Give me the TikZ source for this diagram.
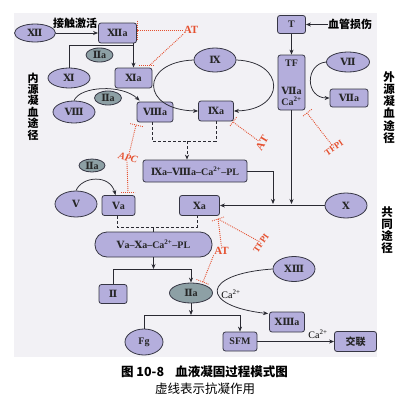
\documentclass[tikz,border=0pt]{standalone}
\usepackage{fontspec}
\setmainfont{Liberation Serif}
\newfontfamily\cjk{Noto Sans CJK SC}
\newfontfamily\rnf{DejaVu Serif}
\usetikzlibrary{shapes.geometric,arrows.meta,calc}
\definecolor{bgc}{HTML}{F2F1F5}
\definecolor{boxc}{HTML}{B4AEDC}
\definecolor{edgec}{HTML}{363644}
\definecolor{thrc}{HTML}{8DA0A5}
\definecolor{redc}{HTML}{E5502F}
\definecolor{linec}{HTML}{2A2A32}
\newcommand\rn[1]{{\rnf\bfseries #1}}
\newcommand\inhbar[3]{\draw[inh] ($(#1)!#3!90:(#2)$) -- ($(#1)!#3!-90:(#2)$);}
\tikzset{
  lbl/.style={font=\bfseries\fontsize{10}{11}\selectfont, text=black!85},
  box/.style={rectangle, rounded corners=2.5pt, draw=edgec, line width=0.8pt, fill=boxc, inner sep=0pt, lbl},
  oval/.style={ellipse, draw=edgec, line width=0.8pt, fill=boxc, inner sep=0pt, lbl},
  thr/.style={oval, fill=thrc},
  plain/.style={draw=linec, line width=0.75pt},
  flow/.style={plain, -{Stealth[length=5pt,width=4pt]}},
  dsh/.style={plain, dash pattern=on 3pt off 2pt},
  dshflow/.style={dsh, -{Stealth[length=5pt,width=4pt]}},
  inh/.style={draw=redc, line width=0.9pt, dash pattern=on 0.9pt off 1.1pt},
  redtxt/.style={text=redc, inner sep=0.5pt, font=\bfseries\fontsize{11}{12}\selectfont},
  redsm/.style={redtxt, font=\bfseries\fontsize{9}{10}\selectfont},
  cjkb/.style={font=\cjk\bfseries\fontsize{11}{12}\selectfont, inner sep=0pt},
  vlab/.style={align=center, inner sep=0pt},
  ca/.style={font=\fontsize{10}{11}\selectfont, inner sep=0pt}
}
\begin{document}
\begin{tikzpicture}[x=1pt,y=-1pt]
\useasboundingbox (0,0) rectangle (405,405);
\fill[white] (0,0) rectangle (405,405);
\fill[bgc] (14,13) rectangle (377,357);

% nodes
\node[oval, minimum width=41pt, minimum height=18pt] (n12) at (35,33) {\rn{Ⅻ}};
\node[box, minimum width=38pt, minimum height=20pt] (n12a) at (117.5,33) {\rn{Ⅻ}a};
\node[oval, minimum width=42pt, minimum height=20pt] (n11) at (69,78) {\rn{Ⅺ}};
\node[box, minimum width=37pt, minimum height=20pt] (n11a) at (133.5,78) {\rn{Ⅺ}a};
\node[oval, minimum width=42pt, minimum height=22pt] (n8) at (74,112) {\rn{Ⅷ}};
\node[box, minimum width=36pt, minimum height=20pt] (n8a) at (155,112) {\rn{Ⅷ}a};
\node[oval, minimum width=42pt, minimum height=24pt] (n9) at (215,60) {\rn{Ⅸ}};
\node[box, minimum width=35pt, minimum height=20pt] (n9a) at (216,111) {\rn{Ⅸ}a};
\node[box, minimum width=28pt, minimum height=18pt] (nT) at (291.5,24.5) {T};
\node[box, minimum width=27pt, minimum height=55pt, align=center] (nTF) at (291.5,82.5) {TF\\[17pt]\rn{Ⅶ}a\\Ca\textsuperscript{2+}};
\node[oval, minimum width=43pt, minimum height=20pt] (n7) at (348,62) {\rn{Ⅶ}};
\node[box, minimum width=38pt, minimum height=18pt] (n7a) at (349,98) {\rn{Ⅶ}a};
\node[box, minimum width=104pt, minimum height=22pt] (c1) at (195,171) {\rn{Ⅸ}a–\rn{Ⅷ}a–Ca\textsuperscript{2+}–PL};
\node[oval, minimum width=42pt, minimum height=25pt] (nX) at (346,205.5) {\rn{Ⅹ}};
\node[box, minimum width=40pt, minimum height=20pt] (nXa) at (199.5,205.5) {\rn{Ⅹ}a};
\node[box, minimum width=33pt, minimum height=20pt] (nVa) at (118.5,205.5) {\rn{Ⅴ}a};
\node[oval, minimum width=42pt, minimum height=26pt] (nV) at (76,204) {\rn{Ⅴ}};
\node[box, rounded corners=12pt, minimum width=117pt, minimum height=25pt] (c2) at (153.5,244.5) {\rn{Ⅴ}a–\rn{Ⅹ}a–Ca\textsuperscript{2+}–PL};
\node[box, minimum width=28pt, minimum height=19pt] (n2) at (113,294) {\rn{Ⅱ}};
\node[oval, minimum width=42pt, minimum height=25pt] (n13) at (294,269) {\rn{ⅩⅢ}};
\node[box, minimum width=35pt, minimum height=20pt] (n13a) at (287,322) {\rn{ⅩⅢ}a};
\node[oval, minimum width=38pt, minimum height=26pt] (nFg) at (144,342) {Fg};
\node[box, minimum width=34pt, minimum height=19pt] (nSFM) at (240,341.5) {SFM};
\node[box, minimum width=42pt, minimum height=20pt, font=\cjk\bfseries\fontsize{10}{11}\selectfont] (nCL) at (355.5,341.5) {交联};

% upper pathway connectors
\node[cjkb] (contact) at (75,23) {接触激活};
\draw[flow] (n12) -- (n12a);
\coordinate (y45) at (0,45);
\draw[plain] (n11.north) |- (n11a.north |- y45);
\draw[flow] (n11a.north |- n12a.south) -- (n11a.north);
\node[thr, minimum width=27pt, minimum height=14pt] (t1) at (99.5,55) {\rn{Ⅱ}a};

\draw[flow] (n8.north) .. controls (80,86) and (122,84) .. ($(n8a.north west)+(3,-1)$);
\node[thr, minimum width=27pt, minimum height=14pt] (t2) at (108,98) {\rn{Ⅱ}a};

\draw[flow] (n9.west) .. controls (140,62) and (140,110) .. (n9a.west);
\draw[flow] (n9.east) .. controls (286,62) and (286,110) .. (n9a.east);

\node[cjkb] (inj) at (350,24.5) {血管损伤};
\draw[flow] (inj.west) -- (nT.east);
\draw[flow] (nT) -- (nTF);
\draw[flow] (n7.west) .. controls (305,64) and (305,98) .. (n7a.west);

% tenase
\coordinate (d1) at (0,141);
\draw[dsh] ($(n8a.south)+(-3,0)$) |- (d1 -| n9a.south) -- (n9a.south);
\coordinate (d1m) at (187,141);
\draw[dshflow] (d1m) -- (d1m |- c1.north);

% to X line
\coordinate (k1) at (273,204);
\draw[flow] (c1.east) -| (k1);
\draw[flow] (nTF.south) -- (nTF.south |- k1);
\draw[flow] (nX.west) -- (nXa.east);

% V
\draw[flow] (nV.north) .. controls (82,176) and (110,174) .. ($(nVa.north)+(-3,0)$);
\node[thr, minimum width=26pt, minimum height=13pt] (t3) at (92,165.5) {\rn{Ⅱ}a};

\coordinate (d2) at (0,227);
\draw[dsh] ($(nVa.south)+(-1.5,0)$) |- ($(d2 -| nXa.south)+(-2.5,0)$) -- ($(nXa.south)+(-2.5,0)$);
\draw[plain] (c2.north |- d2) -- (c2.north);

% prothrombin
\node[thr, minimum width=43pt, minimum height=20pt] (t4) at (191,293) {\rn{Ⅱ}a};
\coordinate (h1) at (0,269);
\draw[flow] (c2.south) -- (c2.south |- h1);
\draw[flow] (n2.north) |- (h1 -| t4.north) -- (t4.north);

\draw[flow] (n13.west) .. controls (200,274) and (200,306) .. ($(n13a.north west)+(-1,2)$);
\node[ca] (ca1) at (231,294) {Ca\textsuperscript{2+}};

\coordinate (h2) at (0,315);
\draw[flow] (t4.south) -- (t4.south |- h2);
\draw[flow] (nFg.north) |- (h2 -| nSFM.north) -- (nSFM.north);
\draw[flow] (nSFM.east) -- (nCL.west);
\node[ca] (ca2) at (318,334) {Ca\textsuperscript{2+}};

% inhibitors
\node[redtxt] (at1) at (191,30) {AT};
\draw[inh] (at1.west) -- (at1.west -| n12a.east);
\draw[inh] ($(n12a.north east)+(0.5,-2)$) -- ($(n12a.south east)+(0.5,-3)$);
\coordinate (b1) at (150,65);
\draw[inh] (at1.south west) -- (b1);
\draw[inh] ($(b1)+(-11,0)$) -- ($(b1)+(4,0)$);

\node[redtxt, font=\bfseries\itshape\fontsize{10}{11}\selectfont, rotate=-15] (apc) at (128,158) {APC};
\coordinate (b2) at (136,125);
\draw[inh] (apc.north) -- (b2);
\inhbar{b2}{apc.north}{7pt}
\coordinate (b3) at (128,192);
\draw[inh] (apc.south) -- (b3);
\draw[inh] ($(b3)+(-7,0)$) -- ($(b3)+(7,0)$);

\node[redtxt, rotate=59] (at2) at (262,143) {AT};
\coordinate (b4) at (233,122);
\draw[inh] (at2.north) -- (b4);
\inhbar{b4}{at2.north}{6pt}

\node[redsm, rotate=35] (tfpi1) at (334,148) {TFPI};
\coordinate (b5) at (307,113);
\draw[inh] (tfpi1.north) -- (b5);
\inhbar{b5}{tfpi1.north}{6pt}

\node[redsm, rotate=55] (tfpi2) at (261,243) {TFPI};
\node[redtxt] (at3) at (221.5,251) {AT};
\coordinate (b6) at (218,219);
\draw[inh] (b6) -- (tfpi2.north);
\draw[inh] (b6) -- (at3.north);
\draw[inh] ($(b6)+(-6,2)$) -- ($(b6)+(6,-2)$);
\coordinate (b7) at (203,282);
\draw[inh] (at3.south west) -- (b7);
\inhbar{b7}{at3.south west}{7pt}

% side labels
\node[vlab, font=\cjk\bfseries\fontsize{11}{11.4}\selectfont] (lab1) at (33,106.5) {内\\源\\凝\\血\\途\\径};
\node[vlab, font=\cjk\bfseries\fontsize{11.5}{12.2}\selectfont] (lab2) at (389,107.5) {外\\源\\凝\\血\\途\\径};
\node[vlab, font=\cjk\bfseries\fontsize{11.5}{11.8}\selectfont] (lab3) at (387,230) {共\\同\\途\\径};

% caption
\node[font=\cjk\bfseries\fontsize{12.5}{13}\selectfont, inner sep=0pt] (cap1) at (204.5,372) {图 10-8\hspace{0.9em}血液凝固过程模式图};
\node[font=\cjk\fontsize{12.5}{13}\selectfont, inner sep=0pt] (cap2) at (205,389) {虚线表示抗凝作用};
\end{tikzpicture}
\end{document}
